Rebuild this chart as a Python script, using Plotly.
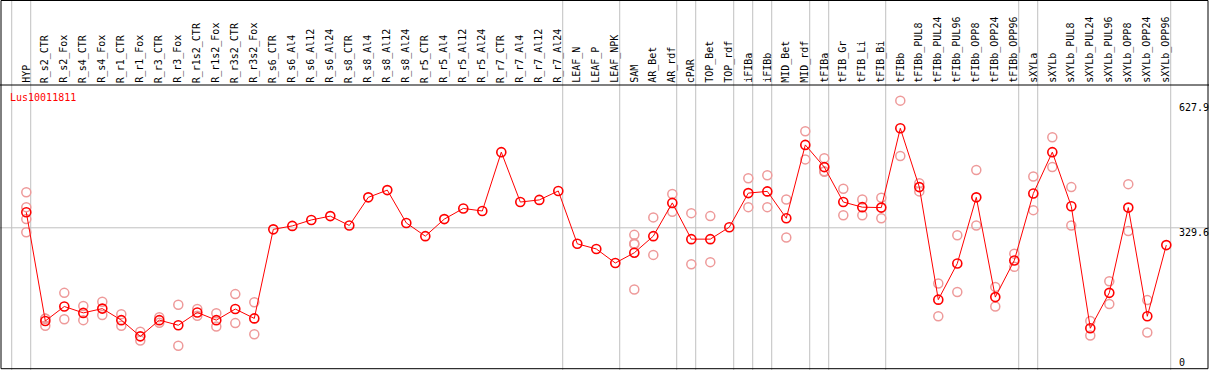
import plotly.graph_objects as go

categories = ["HYP", "R_s2_CTR", "R_s2_Fox", "R_s4_CTR", "R_s4_Fox", "R_r1_CTR", "R_r1_Fox",
              "R_r3_CTR", "R_r3_Fox", "R_r1s2_CTR", "R_r1s2_Fox", "R_r3s2_CTR", "R_r3s2_Fox",
              "R_s6_CTR", "R_s6_Al4", "R_s6_Al12", "R_s6_Al24", "R_s8_CTR", "R_s8_Al4",
              "R_s8_Al12", "R_s8_Al24", "R_r5_CTR", "R_r5_Al4", "R_r5_Al12", "R_r5_Al24",
              "R_r7_CTR", "R_r7_Al4", "R_r7_Al12", "R_r7_Al24", "LEAF_N", "LEAF_P", "LEAF_NPK",
              "SAM", "AR_Bet", "AR_rdf", "cPAR", "TOP_Bet", "TOP_rdf", "iFIBa", "iFIBb",
              "MID_Bet", "MID_rdf", "tFIBa", "tFIB_Gr", "tFIB_Li", "tFIB_Bi", "tFIBb",
              "tFIBb_PUL8", "tFIBb_PUL24", "tFIBb_PUL96", "tFIBb_OPP8", "tFIBb_OPP24",
              "tFIBb_OPP96", "sXYLa", "sXYLb", "sXYLb_PUL8", "sXYLb_PUL24", "sXYLb_PUL96",
              "sXYLb_OPP8", "sXYLb_OPP24", "sXYLb_OPP96"]

means = [366, 111, 145, 130, 140, 113, 75, 113, 101, 131, 113, 139, 117,
         326, 334, 348, 357, 335, 401, 418, 341, 310, 350, 375, 369,
         507, 390, 395, 416, 292, 280, 247,
         271, 310, 388, 303, 303, 331, 411, 415, 352, 524, 472, 390, 378, 377,
         563, 425, 161, 246, 401, 167, 253,
         410, 507, 380, 94, 177, 377, 122, 289]

replicates = [[413, 378, 350, 319], [117, 100, 116], [177, 115], [146, 113], [156, 125],
              [127, 100], [86, 65], [120, 107], [149, 53], [139, 123], [129, 98],
              [174, 106], [155, 80],
              [], [], [], [], [], [], [], [], [], [], [], [], [], [], [], [], [], [], [],
              [313, 293, 291, 185], [354, 266], [409, 367], [364, 244], [357, 249], [],
              [446, 378], [453, 378], [396, 307], [556, 490], [493, 461, 462],
              [421, 359], [396, 359], [400, 352],
              [627.9, 498], [434, 415], [199, 122], [312, 179], [465, 335], [191, 145],
              [269, 238],
              [450, 371], [542, 472], [425, 335], [111, 77], [204, 151], [432, 322],
              [160, 84], []]

group_ends = [-1, 0, 28, 31, 34, 35, 37, 38, 39, 41, 42, 45, 52, 53, 60]
ref_values = [627.9, 329.6, 0]
ref_labels = ["627.9", "329.6", "0"]
gene = "Lus10011811"

W, H = 1209, 370
FONT = "DejaVu Sans Mono"

idx = list(range(len(categories)))
rx, ry = [], []
for i, reps in enumerate(replicates):
    for v in reps:
        rx.append(i)
        ry.append(v)

fig = go.Figure()
fig.add_trace(go.Scatter(x=rx, y=ry, mode="markers",
                         marker=dict(symbol="circle-open", size=9, color="#ee9a9a",
                                     line=dict(width=1.5, color="#ee9a9a")),
                         hoverinfo="skip", showlegend=False))
fig.add_trace(go.Scatter(x=idx, y=means, mode="lines+markers",
                         line=dict(color="#ff0000", width=1),
                         marker=dict(symbol="circle-open", size=9, color="#ff0000",
                                     line=dict(width=1.6, color="#ff0000")),
                         text=categories, showlegend=False))

# pixel geometry: x_px = 26.3 + 19*i ; y_px = 368.3 - 0.4263*v
px0, pstep = 26.3, 19.0
ky, y0px = 0.4263, 368.3
xr = [-px0 / pstep, (W - px0) / pstep]
yr = [(y0px - H) / ky, y0px / ky]

shapes = []
for g in group_ends:
    shapes.append(dict(type="line", xref="x", yref="paper", x0=g + 0.232, x1=g + 0.232,
                       y0=0, y1=1, line=dict(color="#c0c0c0", width=1), layer="below"))
shapes.append(dict(type="line", xref="paper", yref="y", x0=0, x1=1, y0=ref_values[1],
                   y1=ref_values[1], line=dict(color="#c0c0c0", width=1), layer="below"))
# header separator and frame
shapes.append(dict(type="line", xref="paper", yref="paper", x0=0, x1=1,
                   y0=(H - 85) / H, y1=(H - 85) / H, line=dict(color="black", width=1)))
shapes.append(dict(type="rect", xref="paper", yref="paper", x0=1.0 / W, x1=1208.0 / W,
                   y0=(H - 368.7) / H, y1=(H - 0.5) / H, line=dict(color="black", width=1)))

annotations = []
for i, c in enumerate(categories):
    annotations.append(dict(x=i, y=(H - 84) / H, xref="x", yref="paper", text=c,
                            textangle=-90, showarrow=False, xanchor="center",
                            yanchor="bottom", xshift=-0.5, borderpad=0,
                            font=dict(family=FONT, size=10, color="black")))
annotations.append(dict(x=9.0 / W, y=(H - 97) / H, xref="paper", yref="paper", text=gene,
                        showarrow=False, xanchor="left", yanchor="middle", borderpad=0,
                        font=dict(family=FONT, size=10, color="#ff0000")))
shifts = [-6.5, -5, 6]
for v, t, s in zip(ref_values, ref_labels, shifts):
    annotations.append(dict(x=1178.0 / W, y=v, xref="paper", yref="y", text=t,
                            showarrow=False, xanchor="left", yanchor="middle", yshift=s,
                            borderpad=0, font=dict(family=FONT, size=10, color="black")))

fig.update_layout(width=W, height=H, margin=dict(l=0, r=0, t=0, b=0, pad=0),
                  paper_bgcolor="white", plot_bgcolor="white",
                  xaxis=dict(range=xr, visible=False, showgrid=False, zeroline=False),
                  yaxis=dict(range=yr, visible=False, showgrid=False, zeroline=False),
                  shapes=shapes, annotations=annotations, showlegend=False)

fig.write_html("out.html", config={"displayModeBar": False},
               post_script="document.body.style.margin='0';")
